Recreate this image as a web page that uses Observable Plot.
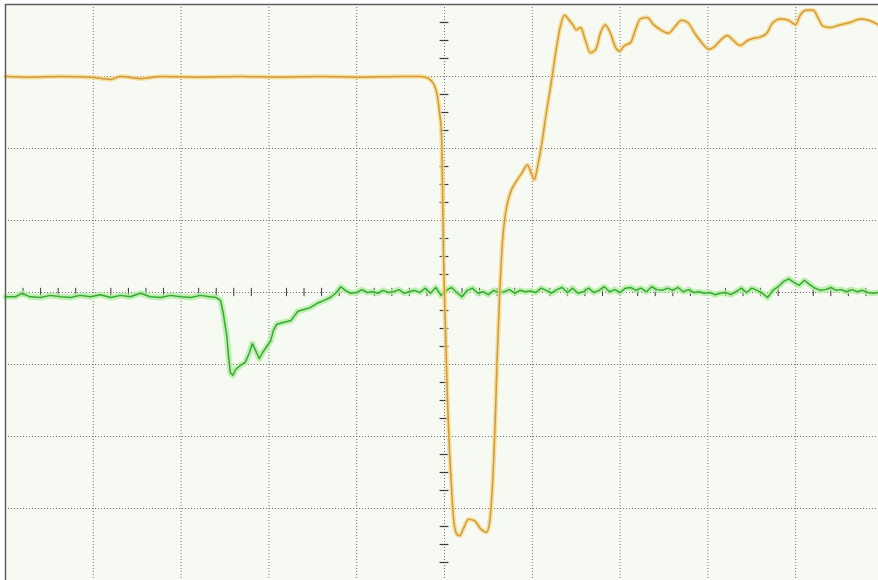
<!DOCTYPE html>
<html>
<head>
<meta charset="utf-8">
<script src="https://cdn.jsdelivr.net/npm/d3@7"></script>
<script src="https://cdn.jsdelivr.net/npm/@observablehq/plot@0.6"></script>
<style>
  html, body { margin: 0; padding: 0; background: #ffffff; }
  #chart svg { display: block; }
</style>
</head>
<body>
<div id="chart"></div>
<script>
// Oscilloscope screen: time and voltage in screen divisions (centre = 0)
const gridX = [-4, -3, -2, -1, 0, 1, 2, 3, 4];
const gridY = [-3, -2, -1, 0, 1, 2, 3];

// CH1 (orange)
const ch1T = [-5.00, -4.72, -4.37, -4.03, -3.80, -3.69, -3.46, -3.23, -2.78, -2.32, -1.87, -1.41, -0.96, -0.50, -0.27, -0.18, -0.125, -0.08, -0.057, -0.034, -0.023, -0.011, 0.011, 0.034, 0.057, 0.08, 0.10, 0.137, 0.171, 0.216, 0.273, 0.342, 0.41, 0.478, 0.51, 0.535, 0.558, 0.58, 0.60, 0.626, 0.66, 0.695, 0.74, 0.81, 0.877, 0.945, 0.99, 1.025, 1.06, 1.105, 1.16, 1.22, 1.275, 1.32, 1.367, 1.41, 1.46, 1.50, 1.55, 1.605, 1.66, 1.72, 1.78, 1.83, 1.89, 1.95, 1.99, 2.05, 2.12, 2.175, 2.23, 2.31, 2.38, 2.46, 2.55, 2.63, 2.70, 2.77, 2.85, 2.93, 3.01, 3.06, 3.14, 3.22, 3.29, 3.37, 3.45, 3.52, 3.60, 3.67, 3.74, 3.83, 3.92, 4.00, 4.05, 4.12, 4.20, 4.26, 4.31, 4.39, 4.51, 4.62, 4.74, 4.83, 4.94];
const ch1V = [3.00, 2.99, 3.00, 2.99, 2.96, 3.00, 2.97, 3.00, 2.99, 3.00, 2.99, 3.00, 2.99, 3.00, 3.00, 2.97, 2.90, 2.72, 2.50, 2.20, 1.50, 0.50, -0.50, -1.50, -2.20, -2.70, -3.10, -3.35, -3.38, -3.28, -3.15, -3.17, -3.28, -3.33, -3.22, -2.90, -2.40, -1.70, -0.90, -0.10, 0.70, 1.10, 1.35, 1.53, 1.65, 1.77, 1.65, 1.57, 1.75, 2.05, 2.50, 2.95, 3.40, 3.70, 3.85, 3.80, 3.72, 3.65, 3.68, 3.50, 3.33, 3.37, 3.62, 3.72, 3.60, 3.40, 3.35, 3.43, 3.47, 3.65, 3.80, 3.82, 3.72, 3.65, 3.60, 3.70, 3.78, 3.75, 3.60, 3.47, 3.38, 3.40, 3.50, 3.57, 3.50, 3.43, 3.50, 3.53, 3.55, 3.60, 3.75, 3.80, 3.78, 3.72, 3.85, 3.92, 3.92, 3.80, 3.70, 3.68, 3.72, 3.75, 3.80, 3.78, 3.72];

// CH2 (green)
const ch2T = [-5.00, -4.89, -4.81, -4.72, -4.60, -4.49, -4.37, -4.26, -4.15, -4.03, -3.92, -3.80, -3.69, -3.58, -3.46, -3.35, -3.23, -3.12, -3.01, -2.89, -2.78, -2.67, -2.60, -2.55, -2.52, -2.48, -2.46, -2.44, -2.41, -2.38, -2.32, -2.27, -2.22, -2.19, -2.15, -2.11, -2.07, -2.03, -1.98, -1.95, -1.91, -1.85, -1.75, -1.67, -1.61, -1.53, -1.45, -1.37, -1.30, -1.24, -1.18, -1.13, -1.07, -1.00,
  -0.94, -0.88, -0.82, -0.76, -0.70, -0.64, -0.58, -0.52, -0.46, -0.40, -0.34, -0.28, -0.22, -0.16, -0.10, -0.04, 0.02, 0.08, 0.14, 0.20, 0.26, 0.32, 0.38, 0.44, 0.50, 0.56, 0.62, 0.68, 0.74, 0.80, 0.86, 0.92, 0.98, 1.04, 1.10, 1.16, 1.22, 1.28, 1.34, 1.40, 1.46, 1.52, 1.58, 1.64, 1.70, 1.76, 1.82, 1.88, 1.94, 2.00, 2.06, 2.12, 2.18, 2.24, 2.30, 2.36, 2.42, 2.48, 2.54, 2.60, 2.66, 2.72, 2.78, 2.84, 2.90, 2.96, 3.02, 3.08, 3.14, 3.20, 3.26, 3.32, 3.38, 3.44, 3.50, 3.56, 3.62, 3.68, 3.74, 3.80, 3.86, 3.92, 3.98, 4.04, 4.10, 4.16, 4.22, 4.28, 4.34, 4.40, 4.46, 4.52, 4.58, 4.64, 4.70, 4.76, 4.82, 4.88, 4.94];
const ch2V = [-0.06, -0.06, -0.01, -0.06, -0.07, -0.04, -0.06, -0.07, -0.04, -0.06, -0.03, -0.07, -0.04, -0.06, -0.01, -0.06, -0.07, -0.04, -0.06, -0.07, -0.04, -0.06, -0.07, -0.11, -0.29, -0.60, -0.88, -1.11, -1.15, -1.07, -1.01, -0.97, -0.83, -0.71, -0.81, -0.92, -0.83, -0.76, -0.67, -0.53, -0.44, -0.42, -0.39, -0.26, -0.24, -0.21, -0.15, -0.11, -0.07, -0.01, 0.08, 0.03, -0.01, 0.00,
  0.04, 0.00, 0.01, -0.01, 0.03, 0.00, 0.01, 0.04, -0.01, 0.01, 0.03, 0.00, 0.06, -0.01, 0.07, -0.04, 0.03, 0.07, 0.00, -0.06, 0.03, 0.06, -0.01, 0.01, -0.03, 0.03, 0.00, 0.01, 0.04, -0.01, 0.03, 0.01, 0.02, 0.00, 0.06, 0.03, -0.01, 0.04, 0.07, 0.00, 0.06, -0.01, 0.01, 0.06, 0.00, 0.03, 0.08, 0.01, 0.04, 0.00, 0.06, 0.07, 0.03, 0.06, 0.01, 0.08, 0.04, 0.03, 0.06, 0.03, 0.07, 0.01, 0.04, 0.00, 0.01, -0.01, 0.00, -0.03, -0.01, 0.00, -0.03, 0.01, 0.06, 0.00, 0.06, 0.03, -0.01, -0.07, 0.03, 0.08, 0.15, 0.19, 0.14, 0.10, 0.17, 0.11, 0.06, 0.03, 0.04, 0.07, 0.03, 0.04, 0.01, 0.04, 0.01, 0.03, 0.00, -0.01, 0.00];

const ch1 = ch1T.map((t, i) => ({t, v: ch1V[i]}));
const ch2 = ch2T.map((t, i) => ({t, v: ch2V[i]}));
// centre-axis graticule ticks: 5 per division horizontally, 4 per division vertically
const minorX = d3.range(-50, 50, 2).map(d => d / 10).filter(d => Math.abs(d - Math.round(d)) > 1e-6);
const minorY = d3.range(-16, 17, 1).map(d => d / 4).filter(d => Math.abs(d - Math.round(d)) > 1e-6);

const dotted = {stroke: "#707070", strokeWidth: 1, strokeDasharray: "1,2"};

const chart = Plot.plot({
  width: 878,
  height: 580,
  marginLeft: 5,
  marginRight: 0,
  marginTop: 4,
  marginBottom: 0,
  style: {background: "#ffffff", overflow: "visible"},
  x: {domain: [-5, 4.943], axis: null},
  y: {domain: [-4, 4], axis: null},
  marks: [
    Plot.frame({fill: "#f6faf3", stroke: null}),
    Plot.ruleX(gridX, {...dotted}),
    Plot.ruleY(gridY, {...dotted}),
    Plot.ruleX(minorX, {y1: -0.058, y2: 0.058, stroke: "#3a3a3a", strokeWidth: 1}),
    Plot.ruleY(minorY, {x1: -0.05, x2: 0.05, stroke: "#3a3a3a", strokeWidth: 1.2}),
    Plot.line(ch2, {x: "t", y: "v", stroke: "#b2eea0", strokeWidth: 6, strokeOpacity: 0.8}),
    Plot.line(ch2, {x: "t", y: "v", stroke: "#36a836", strokeWidth: 1.5}),
    Plot.line(ch1, {x: "t", y: "v", curve: "monotone-x", stroke: "#f8d67e", strokeWidth: 4.5, strokeOpacity: 0.75}),
    Plot.line(ch1, {x: "t", y: "v", curve: "monotone-x", stroke: "#cf9a40", strokeWidth: 1.5}),
    Plot.ruleX([-5], {stroke: "#5f5f5f", strokeWidth: 1.5}),
    Plot.ruleY([4], {stroke: "#5f5f5f", strokeWidth: 1.5})
  ]
});
document.getElementById("chart").appendChild(chart);
</script>
</body>
</html>
